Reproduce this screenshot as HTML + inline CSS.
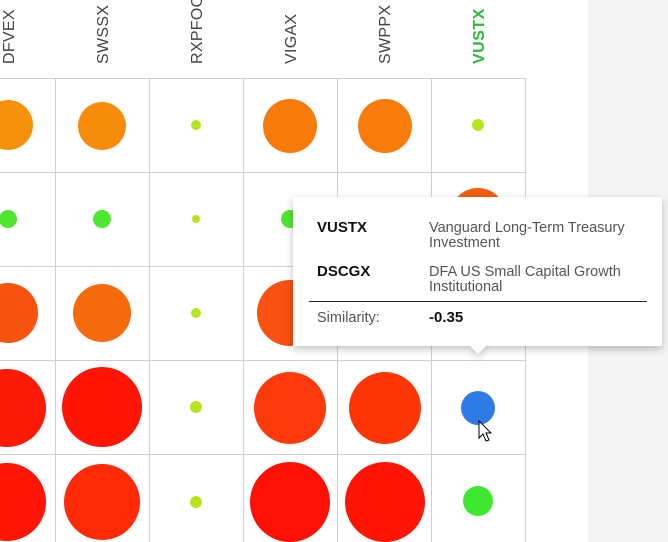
<!DOCTYPE html>
<html><head><meta charset="utf-8"><style>
html,body{margin:0;padding:0;width:668px;height:542px;overflow:hidden;background:#fff;font-family:"Liberation Sans",sans-serif}
</style></head><body>
<svg width="668" height="542" xmlns="http://www.w3.org/2000/svg" style="position:absolute;left:0;top:0">
<defs><filter id="sh" x="-10%" y="-10%" width="120%" height="130%"><feDropShadow dx="0" dy="3" stdDeviation="4" flood-color="#000" flood-opacity="0.25"/></filter></defs>
<rect x="588" y="0" width="80" height="542" fill="#f4f4f4"/>
<g stroke="#cfcfcf" stroke-width="1">
<line x1="0" y1="78.5" x2="526" y2="78.5"/><line x1="0" y1="172.5" x2="526" y2="172.5"/><line x1="0" y1="266.5" x2="526" y2="266.5"/><line x1="0" y1="360.5" x2="526" y2="360.5"/><line x1="0" y1="454.5" x2="526" y2="454.5"/>
<line x1="55.5" y1="78" x2="55.5" y2="542"/><line x1="149.5" y1="78" x2="149.5" y2="542"/><line x1="243.5" y1="78" x2="243.5" y2="542"/><line x1="337.5" y1="78" x2="337.5" y2="542"/><line x1="431.5" y1="78" x2="431.5" y2="542"/>
<line x1="525.5" y1="78" x2="525.5" y2="542"/>
</g>
<g font-size="16" fill="#444" letter-spacing="0.3">
<text transform="translate(14,64) rotate(-90)">DFVEX</text>
<text transform="translate(108,64) rotate(-90)">SWSSX</text>
<text transform="translate(202,64) rotate(-90)">RXPFOO</text>
<text transform="translate(296,64) rotate(-90)">VIGAX</text>
<text transform="translate(390,64) rotate(-90)">SWPPX</text>
<text transform="translate(484,64) rotate(-90)" fill="#2db83d" font-weight="bold" letter-spacing="0.5">VUSTX</text>
</g>
<circle cx="8" cy="125" r="25" fill="#f7900a"/>
<circle cx="102" cy="126" r="24" fill="#f78c0a"/>
<circle cx="196" cy="125" r="5" fill="#b5e61d"/>
<circle cx="290" cy="126" r="27" fill="#f77b0b"/>
<circle cx="385" cy="126" r="27" fill="#f77c0b"/>
<circle cx="478" cy="125" r="6" fill="#b5e61d"/>
<circle cx="8" cy="219" r="9" fill="#4ee62f"/>
<circle cx="102" cy="219" r="9" fill="#4ee62f"/>
<circle cx="196" cy="219" r="4" fill="#b5e61d"/>
<circle cx="290" cy="219" r="9" fill="#4ee62f"/>
<circle cx="478" cy="216" r="28" fill="#f85a0e"/>
<circle cx="8" cy="313" r="30" fill="#f8540f"/>
<circle cx="102" cy="313" r="29" fill="#f56a0c"/>
<circle cx="196" cy="313" r="5" fill="#b5e61d"/>
<circle cx="290" cy="313" r="33" fill="#fa5010"/>
<circle cx="7" cy="408" r="39" fill="#fb1a06"/>
<circle cx="102" cy="407" r="40" fill="#ff1405"/>
<circle cx="196" cy="407" r="6" fill="#b5e61d"/>
<circle cx="290" cy="408" r="36" fill="#fc3a0c"/>
<circle cx="385" cy="408" r="36" fill="#fe3507"/>
<circle cx="478" cy="408" r="17" fill="#2f7be6"/>
<circle cx="7" cy="502" r="39" fill="#ff1505"/>
<circle cx="102" cy="502" r="38" fill="#ff2a08"/>
<circle cx="196" cy="502" r="6" fill="#b5e61d"/>
<circle cx="290" cy="502" r="40" fill="#ff1005"/>
<circle cx="385" cy="502" r="40" fill="#ff1405"/>
<circle cx="478" cy="501" r="15" fill="#3ee830"/>
<g filter="url(#sh)">
<path d="M293,197 H662 V346 H486 L478,354 L470,346 H293 Z" fill="#fff"/>
</g>
<g font-size="15">
<text x="317" y="232" font-weight="bold" fill="#111">VUSTX</text>
<text x="429" y="232" fill="#555" font-size="14.5">Vanguard Long-Term Treasury</text>
<text x="429" y="247" fill="#555" font-size="14.5">Investment</text>
<text x="317" y="276" font-weight="bold" fill="#111">DSCGX</text>
<text x="429" y="276" fill="#555" font-size="14.5">DFA US Small Capital Growth</text>
<text x="429" y="291" fill="#555" font-size="14.5">Institutional</text>
<line x1="309" y1="301.5" x2="647" y2="301.5" stroke="#222" stroke-width="1"/>
<text x="317" y="322" fill="#555" font-size="14.5">Similarity:</text>
<text x="429" y="322" font-weight="bold" fill="#111">-0.35</text>
</g>
<path d="M479,421 L479,438 L483,434 L486,441 L489,440 L486,433 L491,433 Z" fill="#fff" stroke="#000" stroke-width="1"/>
</svg>
</body></html>
